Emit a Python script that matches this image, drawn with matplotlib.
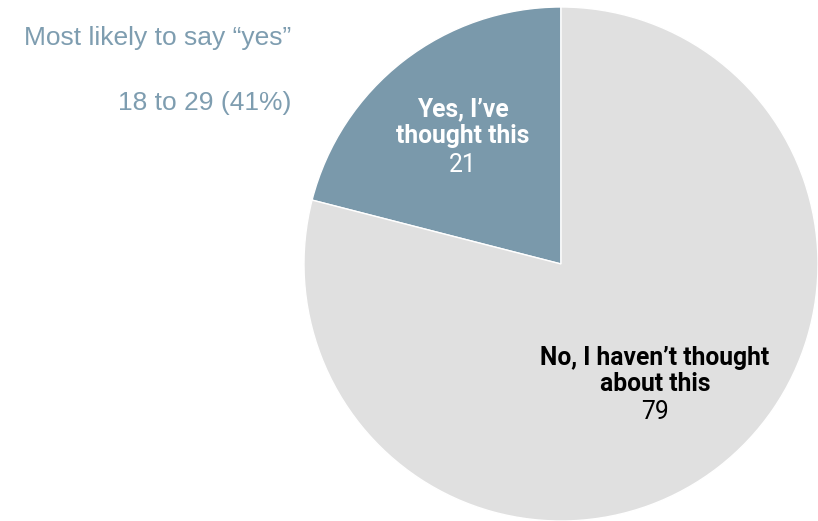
import matplotlib.pyplot as plt

labels = ["Yes, I\u2019ve\nthought this", "No, I haven\u2019t thought\nabout this"]
values = [21, 79]
colors = ["#7a99ab", "#e0e0e0"]
label_colors = ["white", "black"]
note_title = "Most likely to say \u201cyes\u201d"
note_value = "18 to 29 (41%)"

W, H = 818, 521
fig = plt.figure(figsize=(W / 100, H / 100), dpi=100)

# pie centre at (561, 264) px from top-left, radius ~257 px
cx, cy, r = 561, 264, 257
ax = fig.add_axes([(cx - r) / W, (H - cy - r) / H, 2 * r / W, 2 * r / H])
ax.pie(values, colors=colors, startangle=90, counterclock=True,
       wedgeprops=dict(edgecolor="white", linewidth=1))
ax.set_xlim(-1, 1)
ax.set_ylim(-1, 1)
ax.set_aspect("equal")
ax.axis("off")


def px(x, y):
    return x / W, 1 - y / H


# slice labels: bold title lines and a regular value line
label_pos = [(463, 123, 165), (655, 371, 412)]
for lab, val, col, (x, ty, vy) in zip(labels, values, label_colors, label_pos):
    fig.text(*px(x, ty), lab, ha="center", va="center", fontsize=17.7,
             fontfamily="Roboto", fontweight="bold", color=col, linespacing=1.15)
    fig.text(*px(x, vy), str(val), ha="center", va="center", fontsize=17.7,
             fontfamily="Roboto", color=col)

fig.text(*px(291, 38), note_title, ha="right", va="center", fontsize=19,
         fontfamily="Liberation Sans", color="#7e9db0")
fig.text(*px(291, 103), note_value, ha="right", va="center", fontsize=19,
         fontfamily="Liberation Sans", color="#7e9db0")

fig.savefig("out.png", dpi=100)
